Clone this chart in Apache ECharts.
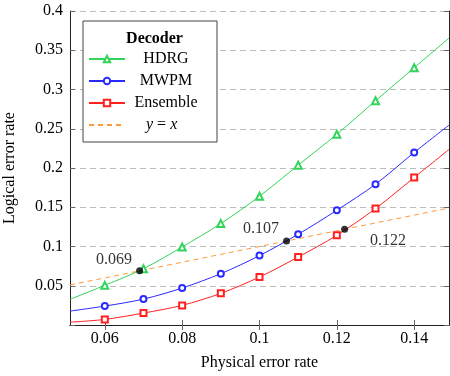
<!DOCTYPE html>
<html>
<head>
<meta charset="utf-8">
<script src="https://cdn.jsdelivr.net/npm/echarts@6/dist/echarts.min.js"></script>
<style>html,body{margin:0;padding:0;background:#fff}#c{width:450px;height:376px}</style>
</head>
<body>
<div id="c"></div>
<script>
// Physical error rates with markers
const xs = [0.06, 0.07, 0.08, 0.09, 0.10, 0.11, 0.12, 0.13, 0.14];
// Curve ends at the plot edges (no markers)
const xEdges = [0.051, 0.149];
const hdrg = [0.0505, 0.0717, 0.0994, 0.1292, 0.164, 0.2036, 0.243, 0.2856, 0.3277];
const hdrgEdges = [0.0327, 0.3655];
const mwpm = [0.0241, 0.033, 0.0471, 0.0654, 0.0884, 0.1156, 0.1462, 0.1793, 0.2198];
const mwpmEdges = [0.0177, 0.2546];
const ensemble = [0.0071, 0.0152, 0.025, 0.0403, 0.0611, 0.0866, 0.1143, 0.1483, 0.1879];
const ensembleEdges = [0.0036, 0.2236];
const thresholds = [0.069, 0.107, 0.122];
const xTicks = [0.06, 0.08, 0.10, 0.12, 0.14];
const seriesNames = ['HDRG', 'MWPM', 'Ensemble', 'y = x'];

const FONT = 'Liberation Serif';

function buildData(vals, edges) {
  const d = [{ value: [xEdges[0], edges[0]], symbol: 'none' }];
  xs.forEach((x, i) => d.push([x, vals[i]]));
  d.push({ value: [xEdges[1], edges[1]], symbol: 'none' });
  return d;
}

const chart = echarts.init(document.getElementById('c'), null, { renderer: 'canvas' });

const tickStyle = { show: true, inside: true, length: 5, lineStyle: { color: '#666', width: 1 } };

const option = {
  animation: false,
  backgroundColor: '#fff',
  textStyle: { fontFamily: FONT },
  grid: { left: 70, right: 1, top: 11, bottom: 51, outerBoundsMode: 'none', containLabel: false },
  title: {
    text: 'Decoder',
    left: 149.5, top: 26, textAlign: 'center',
    textStyle: { fontFamily: FONT, fontWeight: 'bold', fontSize: 16, color: '#000' },
    z: 20
  },
  legend: {
    data: [
      { name: seriesNames[0] }, { name: seriesNames[1] }, { name: seriesNames[2] },
      { name: seriesNames[3], itemStyle: { opacity: 0 } }
    ],
    orient: 'vertical',
    left: 83, top: 21,
    padding: [30, 15, 9, 5],
    itemWidth: 36, itemHeight: 8, itemGap: 6,
    backgroundColor: '#fff',
    borderColor: '#444', borderWidth: 1,
    z: 10,
    formatter: function (name) {
      if (name === 'y = x') return '{p|}{i|y}{c2| = }{i|x}';
      return '{c|' + name + '}';
    },
    textStyle: {
      fontFamily: FONT, fontSize: 16, color: '#000', lineHeight: 14,
      rich: {
        c: { width: 72, align: 'center', fontFamily: FONT, fontSize: 16, lineHeight: 14 },
        p: { width: 16, fontFamily: FONT, fontSize: 16, lineHeight: 14 },
        i: { fontStyle: 'italic', fontFamily: FONT, fontSize: 16, lineHeight: 14 },
        c2: { fontFamily: FONT, fontSize: 16, lineHeight: 14 }
      }
    }
  },
  xAxis: [
    {
      type: 'value', min: xEdges[0], max: xEdges[1], position: 'bottom',
      name: 'Physical error rate', nameLocation: 'middle', nameGap: 30,
      nameTextStyle: { fontFamily: FONT, fontSize: 16, color: '#000' },
      axisLine: { show: true, lineStyle: { color: '#222', width: 1 } },
      axisTick: Object.assign({ customValues: xTicks }, tickStyle),
      axisLabel: { customValues: xTicks, fontFamily: FONT, fontSize: 16, color: '#000', margin: 6,
        formatter: v => String(Math.round(v * 100) / 100) },
      splitLine: { show: false }
    },
    {
      type: 'value', min: xEdges[0], max: xEdges[1], position: 'top',
      axisLine: { show: true, lineStyle: { color: '#222', width: 1 } },
      axisTick: Object.assign({ customValues: xTicks }, tickStyle),
      axisLabel: { show: false },
      splitLine: { show: false }
    }
  ],
  yAxis: [
    {
      type: 'value', min: 0, max: 0.4, interval: 0.05, position: 'left',
      name: 'Logical error rate', nameLocation: 'middle', nameGap: 52,
      nameTextStyle: { fontFamily: FONT, fontSize: 16, color: '#000' },
      axisLine: { show: true, lineStyle: { color: '#222', width: 1 } },
      axisTick: tickStyle,
      axisLabel: { fontFamily: FONT, fontSize: 16, color: '#000', margin: 7,
        formatter: v => (v < 1e-9 ? '' : String(Math.round(v * 100) / 100)) },
      splitLine: { show: true, lineStyle: { color: '#bbb', type: [6, 4], width: 1 } }
    },
    {
      type: 'value', min: 0, max: 0.4, interval: 0.05, position: 'right',
      axisLine: { show: true, lineStyle: { color: '#222', width: 1 } },
      axisTick: tickStyle,
      axisLabel: { show: false },
      splitLine: { show: false }
    }
  ],
  series: [
    {
      name: 'HDRG', type: 'line', smooth: 0.3, data: buildData(hdrg, hdrgEdges),
      symbol: 'emptyTriangle', symbolSize: 7,
      lineStyle: { color: '#33d45a', width: 1 }, itemStyle: { color: '#33d45a', borderWidth: 1 },
      z: 3
    },
    {
      name: 'MWPM', type: 'line', smooth: 0.3, data: buildData(mwpm, mwpmEdges),
      symbol: 'emptyCircle', symbolSize: 6,
      lineStyle: { color: '#2a2aff', width: 1 }, itemStyle: { color: '#2a2aff', borderWidth: 1 },
      z: 3
    },
    {
      name: 'Ensemble', type: 'line', smooth: 0.3, data: buildData(ensemble, ensembleEdges),
      symbol: 'emptyRect', symbolSize: 6,
      lineStyle: { color: '#ff2020', width: 1 }, itemStyle: { color: '#ff2020', borderWidth: 1 },
      z: 3
    },
    {
      name: 'y = x', type: 'line', data: [[xEdges[0], xEdges[0]], [xEdges[1], xEdges[1]]],
      symbol: 'none',
      lineStyle: { color: '#ff9a3c', width: 1, type: [5, 4] }, itemStyle: { color: '#ff9a3c' },
      z: 2
    },
    {
      name: 'thresholds', type: 'scatter', symbol: 'circle', symbolSize: 7,
      itemStyle: { color: '#000' }, z: 5,
      data: thresholds.map((t, i) => ({
        value: [t, t],
        label: [
          { show: true, position: 'left', distance: 4, offset: [0, -11] },
          { show: true, position: 'left', distance: 4, offset: [0, -12] },
          { show: true, position: 'right', distance: 22, offset: [0, 12] }
        ][i]
      })),
      label: {
        fontFamily: FONT, fontSize: 16, color: '#000',
        formatter: p => p.value[0].toFixed(3)
      }
    }
  ]
};
chart.setOption(option);
</script>
</body>
</html>
